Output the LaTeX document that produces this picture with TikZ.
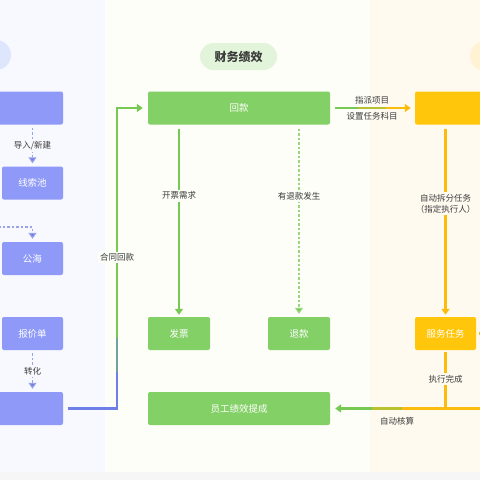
\documentclass[tikz,border=0pt]{standalone}
\usepackage{fontspec}
\newfontfamily\cjk{Noto Sans CJK SC}
\usetikzlibrary{arrows.meta}

\definecolor{panelblue}{HTML}{F8F8FF}
\definecolor{panelgreen}{HTML}{FCFEF7}
\definecolor{panelyellow}{HTML}{FFFAF0}
\definecolor{bandgray}{HTML}{F6F6F7}
\definecolor{boxblue}{HTML}{8F9AF8}
\definecolor{boxgreen}{HTML}{83D066}
\definecolor{boxyellow}{HTML}{FFC60B}
\definecolor{lineblue}{HTML}{6F7FE8}
\definecolor{linegreen}{HTML}{76C952}
\definecolor{lineyellow}{HTML}{FBBC0E}
\definecolor{dashblue}{HTML}{98A3EC}
\definecolor{dashgreen}{HTML}{9AD67F}
\definecolor{pillgreen}{HTML}{E2F5DA}
\definecolor{badgeblue}{HTML}{DDE6FD}
\definecolor{badgeyellow}{HTML}{FFF3D4}
\definecolor{textgray}{HTML}{3C3C3C}

\begin{document}
\begin{tikzpicture}
        [x=1pt, y=-1pt,
         font=\cjk\fontsize{8.5}{11}\selectfont,
         box_blue/.style={rectangle,rounded corners=2pt,fill=boxblue,text=white,
           minimum height=33pt,inner sep=0pt,font=\cjk\fontsize{9.5}{11}\selectfont},
         box_green/.style={box_blue,fill=boxgreen},
         box_yellow/.style={box_blue,fill=boxyellow},
         label_style/.style={text=textgray,inner sep=2pt},
         line_blue/.style={draw=lineblue,line width=2.2pt},
         line_green/.style={draw=linegreen,line width=2.2pt},
         line_yellow/.style={draw=lineyellow,line width=2.2pt},
         line_lime/.style={draw=linegreen!50!lineyellow,line width=2.2pt},
         line_teal/.style={draw=linegreen!50!lineblue,line width=2.2pt},
         dash_blue/.style={draw=dashblue,line width=1.1pt,dash pattern=on 2.5pt off 2pt,
           -{Triangle[length=6pt,width=8pt,fill=lineblue]},shorten >=3pt},
         dash_green/.style={draw=dashgreen,line width=1.1pt,dash pattern=on 2.5pt off 2pt,
           -{Triangle[length=6pt,width=8pt,fill=linegreen]},shorten >=3pt},
         tip/.style={-{Triangle[length=6pt,width=8pt]}}]
            \useasboundingbox (0,0) rectangle (480,480);
            \clip (0,0) rectangle (480,480);
            % panels
            \fill[bandgray] (0,0) rectangle (480,480);
            \fill[panelblue] (0,0) rectangle (105,472);
            \fill[panelgreen] (105,0) rectangle (370,472);
            \fill[panelyellow] (370,0) rectangle (480,472);
            \node[circle,fill=badgeblue,minimum size=30pt] (blue_badge) at (-4,55) {};
            \node[circle,fill=badgeyellow,minimum size=30pt] (yellow_badge) at (485,56) {};
            \node[rectangle,rounded corners=13.5pt,fill=pillgreen,minimum width=77pt,
              minimum height=27pt,text=textgray,font=\cjk\fontsize{12}{14}\selectfont\bfseries]
              (finance_title) at (238.5,56.5) {财务绩效};
            % boxes
            \node[box_blue,minimum width=126pt] (lead_box) at (0,108) {};
            \node[box_blue,minimum width=61pt] (pool) at (32.5,183) {线索池};
            \node[box_blue,minimum width=61pt] (sea) at (32.5,258.5) {公海};
            \node[box_blue,minimum width=61pt] (quote) at (32.5,333.5) {报价单};
            \node[box_blue,minimum width=126pt] (contract) at (0,408.5) {};
            \node[box_green,minimum width=182pt] (pay) at (239,108) {回款};
            \node[box_green,minimum width=62pt] (invoice) at (179,333.5) {发票};
            \node[box_green,minimum width=62pt] (refund) at (299,333.5) {退款};
            \node[box_green,minimum width=182pt] (bonus) at (239,408.5) {员工绩效提成};
            \node[box_yellow,minimum width=130pt] (project) at (480,108) {};
            \node[box_yellow,minimum width=61pt] (task) at (445.5,333.5) {服务任务};
            % helper points
            \coordinate (sea_in) at (-2,227);
            \coordinate (turn_low) at (117,408.5);
            \coordinate (blend_a) at (117,372);
            \coordinate (blend_b) at (117,338);
            \coordinate (turn_high) at (117,108);
            \coordinate (mix_a) at (358,108);
            \coordinate (mix_b) at (386,108);
            \coordinate (join) at (445.5,408.5);
            \coordinate (right_in) at (486,408.5);
            \coordinate (mix_c) at (402,408.5);
            \coordinate (mix_d) at (372,408.5);
            \coordinate (right_out) at (490,333.5);
            % left column
            \draw[dash_blue,shorten <=3pt] (lead_box.south -| pool.north) -- node[label_style,fill=panelblue]{导入/新建} (pool.north);
            \draw[dash_blue] (sea_in) -| (sea.north);
            \draw[dash_blue,shorten <=3pt] (quote.south) -- node[label_style,fill=panelblue]{转化} (contract.north -| quote.south);
            % contract to payment
            \draw[line_blue,shorten <=5pt] (contract.east) -- (turn_low) -- (blend_a);
            \draw[line_teal] (blend_a) -- (blend_b);
            \draw[line_green,tip,shorten >=5pt] (blend_b) -- node[pos=0.35,label_style,fill=panelgreen]{合同回款} (turn_high) -- (pay.west);
            % finance column
            \draw[line_green,tip,shorten <=4pt,shorten >=2pt] (invoice.north |- pay.south) -- node[pos=0.37,label_style,fill=panelgreen]{开票需求} (invoice.north);
            \draw[dash_green,shorten <=4pt] (refund.north |- pay.south) -- node[pos=0.37,label_style,fill=panelgreen]{有退款发生} (refund.north);
            % payment to project
            \draw[line_green,shorten <=5pt] (pay.east) -- (mix_a);
            \draw[line_lime] (mix_a) -- node[above=1pt,label_style]{指派项目} node[below=1pt,label_style]{设置任务科目} (mix_b);
            \draw[line_yellow,tip,shorten >=4pt] (mix_b) -- (project.west);
            % service column
            \draw[line_yellow,tip,shorten <=4pt,shorten >=2pt] (project.south -| task.north) -- node[pos=0.41,label_style,fill=panelyellow,align=center]{自动拆分任务\\（指定执行人）} (task.north);
            \draw[line_yellow,shorten <=2pt] (task.south) -- node[label_style,fill=panelyellow]{执行完成} (join);
            \draw[line_yellow,shorten <=3pt] (task.east) -- (right_out);
            \draw[line_yellow] (right_in) -- (join) -- (mix_c);
            \draw[line_lime] (mix_c) -- (mix_d);
            \draw[line_green,tip,shorten >=5pt] (mix_d) -- (bonus.east);
            \node[label_style] (calc_label) at (397,421.5) {自动核算};
        \end{tikzpicture}
\end{document}
